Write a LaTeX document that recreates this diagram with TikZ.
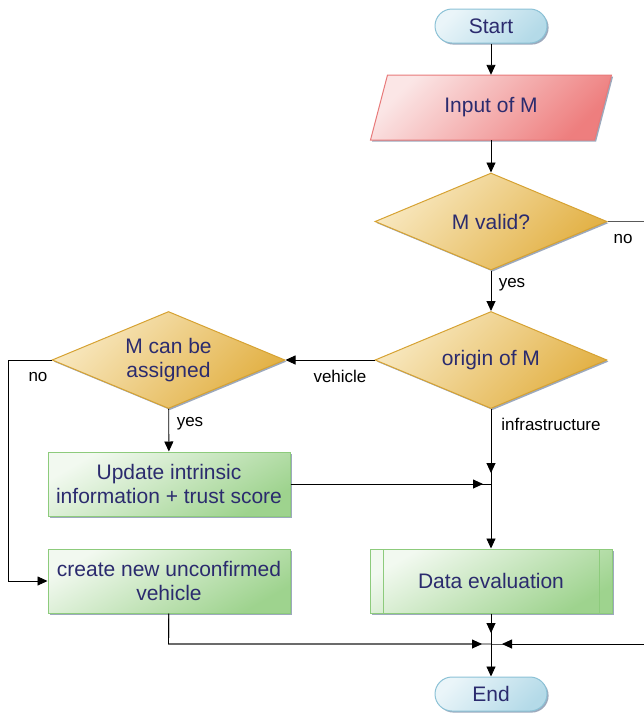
\documentclass[tikz,border=0pt]{standalone}
\usepackage{fontspec}
\setmainfont{Liberation Sans}
\usetikzlibrary{arrows.meta,shapes.geometric,shadows}
\definecolor{txt}{HTML}{2B2B6E}
\definecolor{blueA}{HTML}{EAF5F9}
\definecolor{blueB}{HTML}{B4DAE8}
\definecolor{blueD}{HTML}{8CC2D6}
\definecolor{redA}{HTML}{FBE6E6}
\definecolor{redB}{HTML}{EE7E7E}
\definecolor{redD}{HTML}{E87A7A}
\definecolor{yelA}{HTML}{F8E8C0}
\definecolor{yelB}{HTML}{E2B043}
\definecolor{yelD}{HTML}{D6A232}
\definecolor{grnA}{HTML}{F2F9F0}
\definecolor{grnB}{HTML}{9ED38E}
\definecolor{grnD}{HTML}{8DCB7C}
\definecolor{shd}{HTML}{8494AC}
\begin{document}
\begin{tikzpicture}[x=1pt,y=-1pt,
  base/.style={font=\fontsize{21}{24}\selectfont, text=txt, align=center, inner sep=0pt,
    line width=1pt, drop shadow={shadow xshift=1.6pt, shadow yshift=-1.6pt, fill=shd, opacity=0.8}},
  term/.style={base, rectangle, rounded corners=17pt, minimum width=112pt, minimum height=34pt,
    draw=blueD, top color=blueA, bottom color=blueB, shading angle=45},
  dec/.style={base, diamond, aspect=2.4, minimum width=232pt, minimum height=97pt,
    draw=yelD, top color=yelA, bottom color=yelB, shading angle=45},
  proc/.style={base, rectangle, minimum width=242pt, minimum height=64pt,
    draw=grnD, top color=grnA, bottom color=grnB, shading angle=30},
  predef/.style={proc, path picture={
    \draw[grnD, line width=1pt] ([xshift=13pt]path picture bounding box.north west) -- ([xshift=13pt]path picture bounding box.south west);
    \draw[grnD, line width=1pt] ([xshift=-13pt]path picture bounding box.north east) -- ([xshift=-13pt]path picture bounding box.south east);}},
  plain/.style={font=\fontsize{21}{24}\selectfont, text=txt, align=center, inner sep=0pt},
  lab/.style={font=\fontsize{17}{20}\selectfont, text=black, inner sep=0pt},
  line/.style={draw=black, line width=0.9pt},
  arr/.style={line, -{Triangle[length=10pt,width=9pt]}},
  ext/.style={draw=black!65, line width=0.9pt}
]
\useasboundingbox (0,0) rectangle (644,716);

% input parallelogram shape
\path[line width=1pt, draw=redD, top color=redA, bottom color=redB, shading angle=45,
  drop shadow={shadow xshift=1.6pt, shadow yshift=-1.6pt, fill=shd, opacity=0.8}]
  (387.5,75) -- (611.5,75) -- (594.5,140) -- (370.5,140) -- cycle;

\node[term] (start) at (491,26) {Start};
\node[plain, minimum width=200pt, minimum height=65pt] (in) at (491,107.5) {Input of M};
\node[dec] (valid) at (491,221.5) {M valid?};
\node[dec] (origin) at (491,360) {origin of M};
\node[dec, minimum width=233pt] (assign) at (168.5,360) {M can be\\assigned};
\node[proc] (update) at (169,484) {Update intrinsic\\information + trust score};
\node[proc] (create) at (169,581) {create new unconfirmed\\vehicle};
\node[predef] (eval) at (491,581) {Data evaluation};
\node[term] (end) at (491,694) {End};

\coordinate (j1) at (491,484);
\coordinate (j2) at (491,644);
\coordinate (noV) at (644,221.5);
\coordinate (noE) at (644,644);
\coordinate (c1) at (8,360);
\coordinate (cb) at (168.5,644);

\draw[arr] (start) -- (in);
\draw[arr] (in) -- (valid);
\draw[ext] (valid.east) -- (noV);
\draw[arr] (valid) -- (origin);
\draw[arr] (origin.west) -- (assign.east);
\draw[arr] (assign.west) -- (c1) |- (create.west);
\draw[arr] (assign) -- (update);
% junction 1
\draw[line] (origin) -- (j1);
\draw[arr, shorten >=11pt] (origin) -- (j1);
\draw[arr] (j1) -- (eval);
\draw[line] (update.east) -- (j1);
\draw[arr, shorten >=8pt] (update.east) -- (j1);
% junction 2
\draw[line] (eval) -- (j2);
\draw[arr, shorten >=11pt] (eval) -- (j2);
\draw[line] (create) -- (cb) -- (j2);
\draw[arr, shorten >=9pt] (create) -- (cb) -- (j2);
\draw[ext] (noE) -- (j2);
\draw[arr, shorten >=11pt] (noE) -- (j2);
\draw[arr] (j2) -- (end);

\node[lab] (lno1) at (623,239) {no};
\node[lab] (lyes1) at (512,285) {yes};
\node[lab] (lveh) at (340,376) {vehicle};
\node[lab] (lno2) at (38,377) {no};
\node[lab] (lyes2) at (190,424) {yes};
\node[lab] (linf) at (551,424) {infrastructure};
\end{tikzpicture}
\end{document}
